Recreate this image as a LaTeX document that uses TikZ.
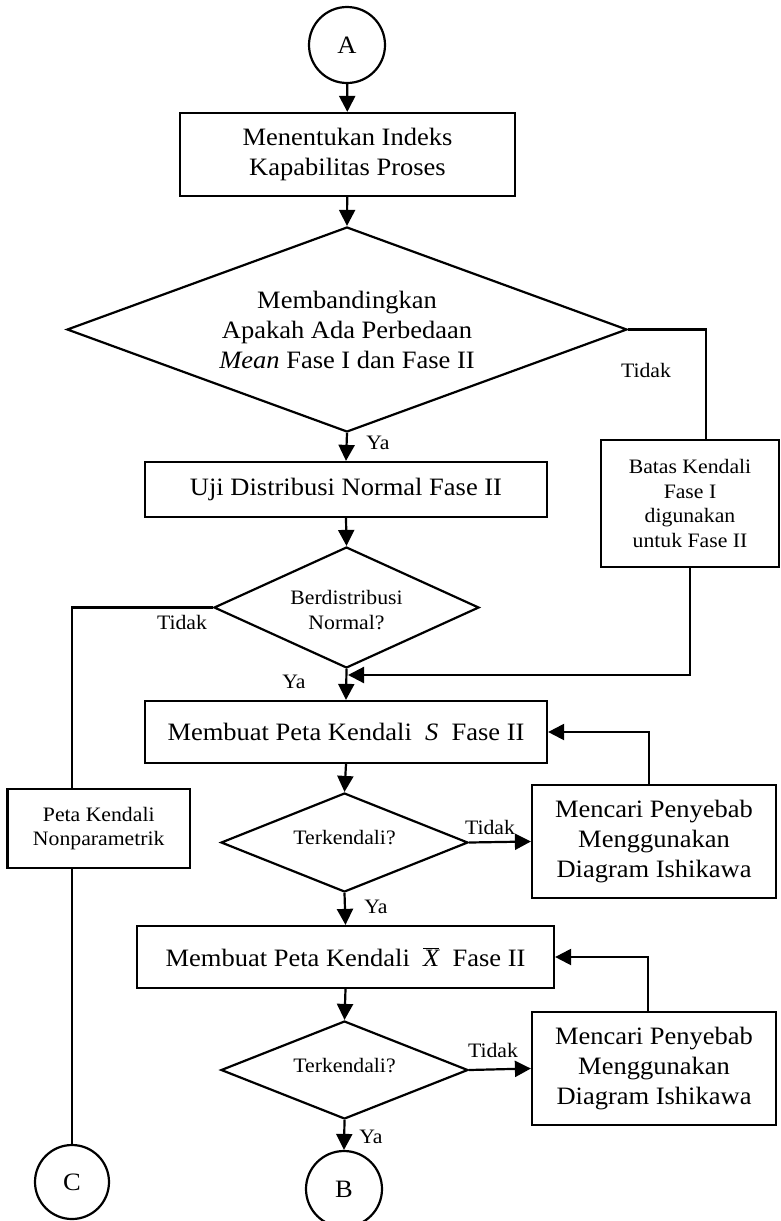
\documentclass[tikz,border=0pt]{standalone}
\usepackage{fontspec}
\setmainfont{Liberation Serif}[FakeStretch=1.06]
\usetikzlibrary{arrows.meta,shapes.geometric}
\begin{document}
\begin{tikzpicture}[x=1pt,y=-1pt,
  line width=2.2pt,
  flow/.style={-{Triangle[length=16pt,width=16pt]}},
  bigtext/.style={font=\fontsize{25}{30}\selectfont},
  smalltext/.style={font=\fontsize{20.5}{24.5}\selectfont},
  procbox/.style={draw, rectangle, inner sep=0pt, align=center},
  decision/.style={draw, diamond, inner sep=0pt},
  connector/.style={draw, circle, inner sep=0pt, minimum size=76pt, bigtext},
  lbl/.style={smalltext, inner sep=0pt}]

\useasboundingbox (0,0) rectangle (780,1221);

% connectors on the page
\node[connector] (A) at (347,45) {A};
\node[connector] (B) at (344,1189) {B};
\node[connector, minimum size=74pt] (C) at (72,1182) {C};

% process boxes
\node[procbox, bigtext, minimum width=335pt, minimum height=83pt] (box1) at (347.5,154.5) {Menentukan Indeks\\Kapabilitas Proses};
\node[procbox, bigtext, minimum width=402pt, minimum height=55pt] (uji) at (346,489.5) {Uji Distribusi Normal Fase II};
\node[procbox, smalltext, minimum width=178pt, minimum height=127pt] (batas) at (690,503.5) {Batas Kendali\\Fase I\\digunakan\\untuk Fase II};
\node[procbox, smalltext, minimum width=182.5pt, minimum height=79pt] (nonpar) at (98.75,828.5) {Peta Kendali\\Nonparametrik};
\node[procbox, bigtext, minimum width=402pt, minimum height=62pt] (sbox) at (346,732) {Membuat Peta Kendali~~\textit{S}~~Fase II};
\node[procbox, bigtext, minimum width=244pt, minimum height=113pt] (cari1) at (654,841.5) {Mencari Penyebab\\Menggunakan\\Diagram Ishikawa};
\node[procbox, bigtext, minimum width=417pt, minimum height=62pt] (xbox) at (345.5,957) {Membuat Peta Kendali~~$\overline{\textit{X}}$~~Fase II};
\node[procbox, bigtext, minimum width=244pt, minimum height=113pt] (cari2) at (654,1068.5) {Mencari Penyebab\\Menggunakan\\Diagram Ishikawa};

% decisions
\node[decision, minimum width=560pt, minimum height=205pt] (d1) at (347,329.5) {};
\node[bigtext, align=center, inner sep=0pt] (t1) at (d1.center) {Membandingkan\\Apakah Ada Perbedaan\\\textit{Mean} Fase I dan Fase II};
\node[decision, minimum width=265pt, minimum height=121pt] (d2) at (346.5,607.5) {};
\node[smalltext, align=center, inner sep=0pt] (t2) at (346.5,610) {Berdistribusi\\Normal?};
\node[decision, minimum width=247pt, minimum height=99pt] (d3) at (344.5,842.5) {};
\node[smalltext, inner sep=0pt] (t3) at (344.5,838) {Terkendali?};
\node[decision, minimum width=247pt, minimum height=98pt] (d4) at (344.5,1070) {};
\node[smalltext, inner sep=0pt] (t4) at (344.5,1066) {Terkendali?};

% branch labels
\node[lbl] (ya1) at (378,443) {Ya};
\node[lbl] (no1) at (646,370) {Tidak};
\node[lbl] (no2) at (182,622) {Tidak};
\node[lbl] (ya2) at (294,682) {Ya};
\node[lbl] (no3) at (490,827) {Tidak};
\node[lbl] (ya3) at (376,907) {Ya};
\node[lbl] (no4) at (493,1050) {Tidak};
\node[lbl] (ya4) at (371,1137) {Ya};

% bend points
\coordinate (j1) at (706,329.5);
\coordinate (j2) at (72,607.5);
\coordinate (m1) at (348,675);
\coordinate (f1) at (649,732);
\coordinate (f2) at (648,957);

% main flow
\draw[flow] (A) -- (box1);
\draw[flow] (box1) -- (d1.north);
\draw[flow] (d1.south) -- (uji.north);
\draw[flow] (uji.south) -- (d2.north);
\draw[flow] (d2.south) -- (sbox.north);
\draw[flow] (sbox.south) -- (d3.north);
\draw[flow] (d3.south) -- (xbox.north);
\draw[flow] (xbox.south) -- (d4.north);
\draw[flow] (d4.south) -- (B.north);

% no-branch of the first decision
\draw (d1.east) -- (j1) -- (j1 |- batas.north);
\draw[flow] (batas.south) |- (m1);

% non-normal branch
\draw (d2.west) -- (j2) -- (j2 |- nonpar.north);
\draw (j2 |- nonpar.south) -- (C.north);

% out-of-control loops
\draw[flow] (d3.east) -- (cari1.west);
\draw[flow] (f1 |- cari1.north) -- (f1) -- (sbox.east);
\draw[flow] (d4.east) -- (cari2.west);
\draw[flow] (f2 |- cari2.north) -- (f2) -- (xbox.east);
\end{tikzpicture}
\end{document}
